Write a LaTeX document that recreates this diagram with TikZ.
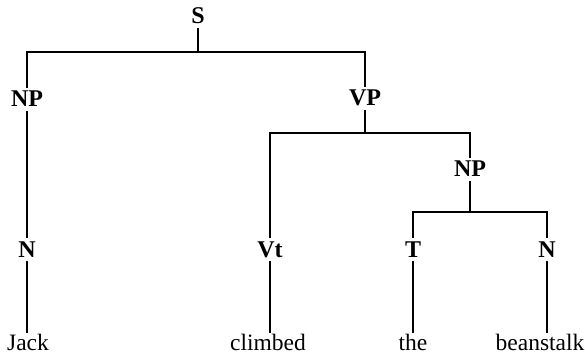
\documentclass[tikz,border=0pt]{standalone}
\usepackage{fontspec}
\setmainfont{Liberation Serif}
\begin{document}
\begin{tikzpicture}[x=1pt,y=-1pt,
  lab/.style={font=\fontsize{24}{28}\selectfont\bfseries, inner sep=3.5pt, anchor=base},
  word/.style={font=\fontsize{23.5}{28}\selectfont, inner sep=2pt, anchor=base},
  branch/.style={line width=1.8pt},
  tick/.style={line width=1.3pt}]
\useasboundingbox (0,0) rectangle (585,355);
% labels
\node[lab] (S) at (198,24) {S};
\node[lab] (NPa) at (27,107) {NP};
\node[lab] (VP) at (365,106) {VP};
\node[lab] (Na) at (27,257) {N};
\node[lab] (Vt) at (270,257) {Vt};
\node[lab] (NPb) at (470,177) {NP};
\node[lab] (T) at (413,257) {T};
\node[lab] (Nb) at (547,257) {N};
% words
\node[word] (jack) at (28,350) {Jack};
\node[word] (climbed) at (268,350) {climbed};
\node[word] (the) at (413,350) {the};
\node[word] (bean) at (540,350) {beanstalk};
% bars and line ends
\coordinate (Sb) at (198,52);
\coordinate (VPb) at (365,133);
\coordinate (NPbb) at (470,212);
\coordinate (jackTop) at (27,333);
\coordinate (climbedTop) at (270,333);
\coordinate (theTop) at (413,333);
\coordinate (beanTop) at (547,333);
% connectors
\draw[tick] (S.south) -- (Sb);
\draw[branch] (NPa.north) |- (Sb) -| (VP.north);
\draw[branch] (NPa.south) -- (Na.north);
\draw[branch] (Na.south) -- (jackTop);
\draw[tick] (VP.south) -- (VPb);
\draw[branch] (Vt.north) |- (VPb) -| (NPb.north);
\draw[branch] (Vt.south) -- (climbedTop);
\draw[tick] (NPb.south) -- (NPbb);
\draw[branch] (T.north) |- (NPbb) -| (Nb.north);
\draw[branch] (T.south) -- (theTop);
\draw[branch] (Nb.south) -- (beanTop);
\end{tikzpicture}
\end{document}
